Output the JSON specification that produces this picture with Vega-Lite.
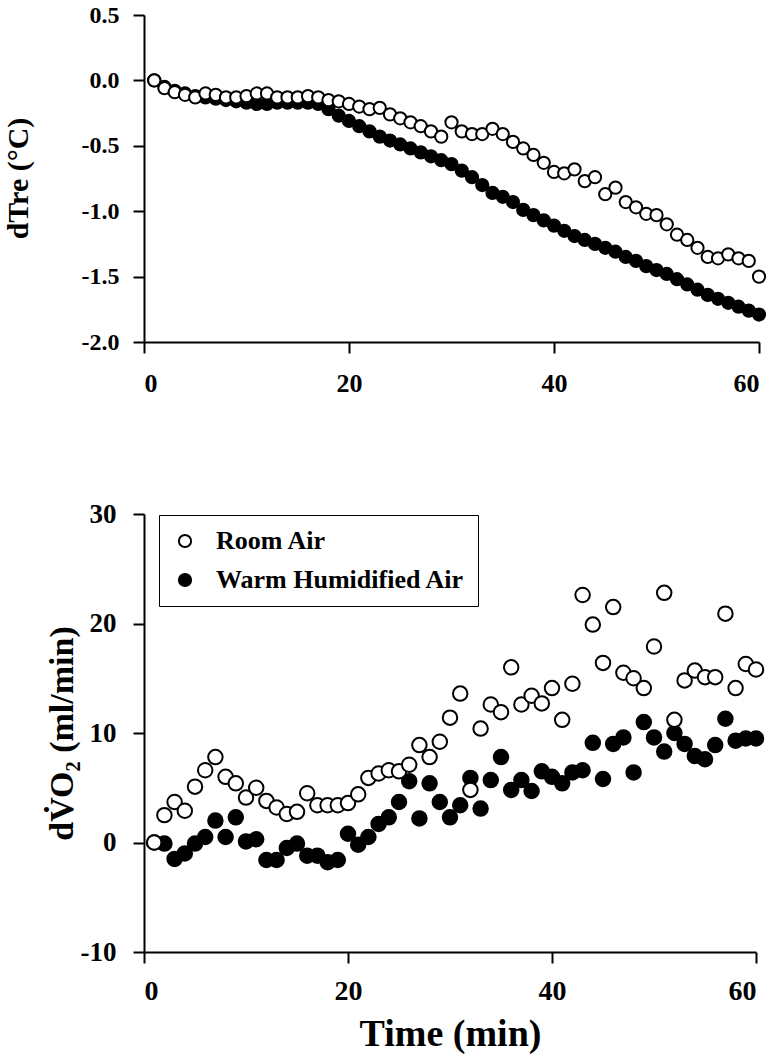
{
  "$schema": "https://vega.github.io/schema/vega-lite/v6.json",
  "background": "white",
  "padding": {"left": 3, "top": 3, "right": 5, "bottom": 5},
  "bounds": "flush",
  "spacing": 172,
  "config": {
    "view": {"stroke": null},
    "font": "Liberation Serif",
    "axis": {
      "domainColor": "black", "domainWidth": 2, "tickColor": "black", "tickWidth": 2, "tickSize": 11,
      "grid": false, "labelFont": "Liberation Serif", "labelFontWeight": "bold", "labelColor": "black",
      "titleFont": "Liberation Serif", "titleFontWeight": "bold", "titleColor": "black"
    }
  },
  "datasets": {
    "tre": [
      {"t":1,"series":"Warm Humidified Air","v":0.0},{"t":2,"series":"Warm Humidified Air","v":-0.05},{"t":3,"series":"Warm Humidified Air","v":-0.08},{"t":4,"series":"Warm Humidified Air","v":-0.10},{"t":5,"series":"Warm Humidified Air","v":-0.12},{"t":6,"series":"Warm Humidified Air","v":-0.13},{"t":7,"series":"Warm Humidified Air","v":-0.14},{"t":8,"series":"Warm Humidified Air","v":-0.15},{"t":9,"series":"Warm Humidified Air","v":-0.16},{"t":10,"series":"Warm Humidified Air","v":-0.17},
      {"t":11,"series":"Warm Humidified Air","v":-0.18},{"t":12,"series":"Warm Humidified Air","v":-0.18},{"t":13,"series":"Warm Humidified Air","v":-0.17},{"t":14,"series":"Warm Humidified Air","v":-0.17},{"t":15,"series":"Warm Humidified Air","v":-0.17},{"t":16,"series":"Warm Humidified Air","v":-0.17},{"t":17,"series":"Warm Humidified Air","v":-0.18},{"t":18,"series":"Warm Humidified Air","v":-0.22},{"t":19,"series":"Warm Humidified Air","v":-0.27},{"t":20,"series":"Warm Humidified Air","v":-0.31},
      {"t":21,"series":"Warm Humidified Air","v":-0.35},{"t":22,"series":"Warm Humidified Air","v":-0.39},{"t":23,"series":"Warm Humidified Air","v":-0.43},{"t":24,"series":"Warm Humidified Air","v":-0.46},{"t":25,"series":"Warm Humidified Air","v":-0.49},{"t":26,"series":"Warm Humidified Air","v":-0.52},{"t":27,"series":"Warm Humidified Air","v":-0.55},{"t":28,"series":"Warm Humidified Air","v":-0.58},{"t":29,"series":"Warm Humidified Air","v":-0.61},{"t":30,"series":"Warm Humidified Air","v":-0.64},
      {"t":31,"series":"Warm Humidified Air","v":-0.69},{"t":32,"series":"Warm Humidified Air","v":-0.74},{"t":33,"series":"Warm Humidified Air","v":-0.80},{"t":34,"series":"Warm Humidified Air","v":-0.86},{"t":35,"series":"Warm Humidified Air","v":-0.89},{"t":36,"series":"Warm Humidified Air","v":-0.93},{"t":37,"series":"Warm Humidified Air","v":-0.99},{"t":38,"series":"Warm Humidified Air","v":-1.03},{"t":39,"series":"Warm Humidified Air","v":-1.07},{"t":40,"series":"Warm Humidified Air","v":-1.11},
      {"t":41,"series":"Warm Humidified Air","v":-1.15},{"t":42,"series":"Warm Humidified Air","v":-1.19},{"t":43,"series":"Warm Humidified Air","v":-1.22},{"t":44,"series":"Warm Humidified Air","v":-1.25},{"t":45,"series":"Warm Humidified Air","v":-1.28},{"t":46,"series":"Warm Humidified Air","v":-1.31},{"t":47,"series":"Warm Humidified Air","v":-1.35},{"t":48,"series":"Warm Humidified Air","v":-1.38},{"t":49,"series":"Warm Humidified Air","v":-1.42},{"t":50,"series":"Warm Humidified Air","v":-1.45},
      {"t":51,"series":"Warm Humidified Air","v":-1.48},{"t":52,"series":"Warm Humidified Air","v":-1.52},{"t":53,"series":"Warm Humidified Air","v":-1.56},{"t":54,"series":"Warm Humidified Air","v":-1.60},{"t":55,"series":"Warm Humidified Air","v":-1.64},{"t":56,"series":"Warm Humidified Air","v":-1.67},{"t":57,"series":"Warm Humidified Air","v":-1.70},{"t":58,"series":"Warm Humidified Air","v":-1.73},{"t":59,"series":"Warm Humidified Air","v":-1.76},{"t":60,"series":"Warm Humidified Air","v":-1.79},
      {"t":1,"series":"Room Air","v":0.0},{"t":2,"series":"Room Air","v":-0.06},{"t":3,"series":"Room Air","v":-0.09},{"t":4,"series":"Room Air","v":-0.11},{"t":5,"series":"Room Air","v":-0.13},{"t":6,"series":"Room Air","v":-0.10},{"t":7,"series":"Room Air","v":-0.11},{"t":8,"series":"Room Air","v":-0.13},{"t":9,"series":"Room Air","v":-0.13},{"t":10,"series":"Room Air","v":-0.12},
      {"t":11,"series":"Room Air","v":-0.10},{"t":12,"series":"Room Air","v":-0.10},{"t":13,"series":"Room Air","v":-0.13},{"t":14,"series":"Room Air","v":-0.13},{"t":15,"series":"Room Air","v":-0.13},{"t":16,"series":"Room Air","v":-0.12},{"t":17,"series":"Room Air","v":-0.13},{"t":18,"series":"Room Air","v":-0.15},{"t":19,"series":"Room Air","v":-0.16},{"t":20,"series":"Room Air","v":-0.18},
      {"t":21,"series":"Room Air","v":-0.20},{"t":22,"series":"Room Air","v":-0.22},{"t":23,"series":"Room Air","v":-0.21},{"t":24,"series":"Room Air","v":-0.26},{"t":25,"series":"Room Air","v":-0.29},{"t":26,"series":"Room Air","v":-0.32},{"t":27,"series":"Room Air","v":-0.35},{"t":28,"series":"Room Air","v":-0.39},{"t":29,"series":"Room Air","v":-0.43},{"t":30,"series":"Room Air","v":-0.32},
      {"t":31,"series":"Room Air","v":-0.39},{"t":32,"series":"Room Air","v":-0.41},{"t":33,"series":"Room Air","v":-0.41},{"t":34,"series":"Room Air","v":-0.37},{"t":35,"series":"Room Air","v":-0.41},{"t":36,"series":"Room Air","v":-0.47},{"t":37,"series":"Room Air","v":-0.52},{"t":38,"series":"Room Air","v":-0.57},{"t":39,"series":"Room Air","v":-0.63},{"t":40,"series":"Room Air","v":-0.70},
      {"t":41,"series":"Room Air","v":-0.71},{"t":42,"series":"Room Air","v":-0.68},{"t":43,"series":"Room Air","v":-0.77},{"t":44,"series":"Room Air","v":-0.74},{"t":45,"series":"Room Air","v":-0.87},{"t":46,"series":"Room Air","v":-0.82},{"t":47,"series":"Room Air","v":-0.93},{"t":48,"series":"Room Air","v":-0.97},{"t":49,"series":"Room Air","v":-1.02},{"t":50,"series":"Room Air","v":-1.03},
      {"t":51,"series":"Room Air","v":-1.10},{"t":52,"series":"Room Air","v":-1.18},{"t":53,"series":"Room Air","v":-1.22},{"t":54,"series":"Room Air","v":-1.28},{"t":55,"series":"Room Air","v":-1.35},{"t":56,"series":"Room Air","v":-1.36},{"t":57,"series":"Room Air","v":-1.33},{"t":58,"series":"Room Air","v":-1.36},{"t":59,"series":"Room Air","v":-1.38},{"t":60,"series":"Room Air","v":-1.50}
    ],
    "vo2": [
      {"t":1,"series":"Warm Humidified Air","v":0.0},{"t":2,"series":"Warm Humidified Air","v":-0.1},{"t":3,"series":"Warm Humidified Air","v":-1.5},{"t":4,"series":"Warm Humidified Air","v":-1.0},{"t":5,"series":"Warm Humidified Air","v":-0.1},{"t":6,"series":"Warm Humidified Air","v":0.5},{"t":7,"series":"Warm Humidified Air","v":2.0},{"t":8,"series":"Warm Humidified Air","v":0.5},{"t":9,"series":"Warm Humidified Air","v":2.3},{"t":10,"series":"Warm Humidified Air","v":0.1},
      {"t":11,"series":"Warm Humidified Air","v":0.3},{"t":12,"series":"Warm Humidified Air","v":-1.6},{"t":13,"series":"Warm Humidified Air","v":-1.6},{"t":14,"series":"Warm Humidified Air","v":-0.5},{"t":15,"series":"Warm Humidified Air","v":-0.1},{"t":16,"series":"Warm Humidified Air","v":-1.2},{"t":17,"series":"Warm Humidified Air","v":-1.2},{"t":18,"series":"Warm Humidified Air","v":-1.8},{"t":19,"series":"Warm Humidified Air","v":-1.6},{"t":20,"series":"Warm Humidified Air","v":0.8},
      {"t":21,"series":"Warm Humidified Air","v":-0.2},{"t":22,"series":"Warm Humidified Air","v":0.5},{"t":23,"series":"Warm Humidified Air","v":1.7},{"t":24,"series":"Warm Humidified Air","v":2.3},{"t":25,"series":"Warm Humidified Air","v":3.7},{"t":26,"series":"Warm Humidified Air","v":5.6},{"t":27,"series":"Warm Humidified Air","v":2.2},{"t":28,"series":"Warm Humidified Air","v":5.4},{"t":29,"series":"Warm Humidified Air","v":3.7},{"t":30,"series":"Warm Humidified Air","v":2.3},
      {"t":31,"series":"Warm Humidified Air","v":3.4},{"t":32,"series":"Warm Humidified Air","v":5.9},{"t":33,"series":"Warm Humidified Air","v":3.1},{"t":34,"series":"Warm Humidified Air","v":5.7},{"t":35,"series":"Warm Humidified Air","v":7.8},{"t":36,"series":"Warm Humidified Air","v":4.8},{"t":37,"series":"Warm Humidified Air","v":5.7},{"t":38,"series":"Warm Humidified Air","v":4.7},{"t":39,"series":"Warm Humidified Air","v":6.5},{"t":40,"series":"Warm Humidified Air","v":6.0},
      {"t":41,"series":"Warm Humidified Air","v":5.4},{"t":42,"series":"Warm Humidified Air","v":6.4},{"t":43,"series":"Warm Humidified Air","v":6.6},{"t":44,"series":"Warm Humidified Air","v":9.1},{"t":45,"series":"Warm Humidified Air","v":5.8},{"t":46,"series":"Warm Humidified Air","v":9.0},{"t":47,"series":"Warm Humidified Air","v":9.6},{"t":48,"series":"Warm Humidified Air","v":6.4},{"t":49,"series":"Warm Humidified Air","v":11.0},{"t":50,"series":"Warm Humidified Air","v":9.6},
      {"t":51,"series":"Warm Humidified Air","v":8.3},{"t":52,"series":"Warm Humidified Air","v":10.0},{"t":53,"series":"Warm Humidified Air","v":9.0},{"t":54,"series":"Warm Humidified Air","v":7.9},{"t":55,"series":"Warm Humidified Air","v":7.6},{"t":56,"series":"Warm Humidified Air","v":8.9},{"t":57,"series":"Warm Humidified Air","v":11.3},{"t":58,"series":"Warm Humidified Air","v":9.3},{"t":59,"series":"Warm Humidified Air","v":9.5},{"t":60,"series":"Warm Humidified Air","v":9.5},
      {"t":1,"series":"Room Air","v":0.0},{"t":2,"series":"Room Air","v":2.5},{"t":3,"series":"Room Air","v":3.7},{"t":4,"series":"Room Air","v":2.9},{"t":5,"series":"Room Air","v":5.1},{"t":6,"series":"Room Air","v":6.6},{"t":7,"series":"Room Air","v":7.8},{"t":8,"series":"Room Air","v":6.0},{"t":9,"series":"Room Air","v":5.4},{"t":10,"series":"Room Air","v":4.1},
      {"t":11,"series":"Room Air","v":5.0},{"t":12,"series":"Room Air","v":3.8},{"t":13,"series":"Room Air","v":3.2},{"t":14,"series":"Room Air","v":2.6},{"t":15,"series":"Room Air","v":2.8},{"t":16,"series":"Room Air","v":4.5},{"t":17,"series":"Room Air","v":3.4},{"t":18,"series":"Room Air","v":3.4},{"t":19,"series":"Room Air","v":3.4},{"t":20,"series":"Room Air","v":3.6},
      {"t":21,"series":"Room Air","v":4.4},{"t":22,"series":"Room Air","v":5.9},{"t":23,"series":"Room Air","v":6.3},{"t":24,"series":"Room Air","v":6.6},{"t":25,"series":"Room Air","v":6.5},{"t":26,"series":"Room Air","v":7.1},{"t":27,"series":"Room Air","v":8.9},{"t":28,"series":"Room Air","v":7.8},{"t":29,"series":"Room Air","v":9.2},{"t":30,"series":"Room Air","v":11.4},
      {"t":31,"series":"Room Air","v":13.6},{"t":32,"series":"Room Air","v":4.8},{"t":33,"series":"Room Air","v":10.4},{"t":34,"series":"Room Air","v":12.6},{"t":35,"series":"Room Air","v":11.9},{"t":36,"series":"Room Air","v":16.0},{"t":37,"series":"Room Air","v":12.6},{"t":38,"series":"Room Air","v":13.4},{"t":39,"series":"Room Air","v":12.7},{"t":40,"series":"Room Air","v":14.1},
      {"t":41,"series":"Room Air","v":11.2},{"t":42,"series":"Room Air","v":14.5},{"t":43,"series":"Room Air","v":22.6},{"t":44,"series":"Room Air","v":19.9},{"t":45,"series":"Room Air","v":16.4},{"t":46,"series":"Room Air","v":21.5},{"t":47,"series":"Room Air","v":15.5},{"t":48,"series":"Room Air","v":15.0},{"t":49,"series":"Room Air","v":14.1},{"t":50,"series":"Room Air","v":17.9},
      {"t":51,"series":"Room Air","v":22.8},{"t":52,"series":"Room Air","v":11.2},{"t":53,"series":"Room Air","v":14.8},{"t":54,"series":"Room Air","v":15.7},{"t":55,"series":"Room Air","v":15.1},{"t":56,"series":"Room Air","v":15.1},{"t":57,"series":"Room Air","v":20.9},{"t":58,"series":"Room Air","v":14.1},{"t":59,"series":"Room Air","v":16.3},{"t":60,"series":"Room Air","v":15.8}
    ]
  },
  "vconcat": [
    {
      "width": 615,
      "height": 327,
      "data": {"name": "tre"},
      "mark": {"type": "point", "filled": true, "stroke": "black", "strokeWidth": 2, "size": 150, "opacity": 1},
      "encoding": {
        "x": {"field": "t", "type": "quantitative", "scale": {"domain": [0, 60], "nice": false},
              "axis": {"values": [0, 20, 40, 60], "title": null, "labelFontSize": 26, "labelPadding": 17}},
        "y": {"field": "v", "type": "quantitative", "scale": {"domain": [-2, 0.5], "nice": false, "zero": false},
              "axis": {"values": [-2, -1.5, -1, -0.5, 0, 0.5], "labelExpr": "replace(format(datum.value, '.1f'), '\u2212', '-')",
                       "title": "dTre (°C)", "labelFontSize": 24, "titleFontSize": 30, "labelPadding": 14,
                       "titleX": -111, "titleY": 163, "titleBaseline": "bottom"}},
        "fill": {"field": "series", "type": "nominal",
                 "scale": {"domain": ["Room Air", "Warm Humidified Air"], "range": ["white", "black"]}, "legend": null}
      }
    },
    {
      "width": 612,
      "height": 438,
      "data": {"name": "vo2"},
      "mark": {"type": "point", "filled": true, "stroke": "black", "strokeWidth": 2, "size": 210, "opacity": 1},
      "encoding": {
        "x": {"field": "t", "type": "quantitative", "scale": {"domain": [0, 60], "nice": false},
              "axis": {"values": [0, 20, 40, 60], "title": "Time (min)", "labelFontSize": 28, "labelPadding": 14,
                       "titleFontSize": 38, "titlePadding": 10}},
        "y": {"field": "v", "type": "quantitative", "scale": {"domain": [-10, 30], "nice": false, "zero": false},
              "axis": {"values": [-10, 0, 10, 20, 30], "labelExpr": "replace(format(datum.value, 'd'), '\u2212', '-')",
                       "title": "dV̇O₂ (ml/min)", "labelFontSize": 27, "titleFontSize": 34, "labelPadding": 17,
                       "titleX": -65, "titleY": 219, "titleBaseline": "bottom"}},
        "fill": {"field": "series", "type": "nominal",
                 "scale": {"domain": ["Room Air", "Warm Humidified Air"], "range": ["white", "black"]},
                 "legend": {"orient": "none", "legendX": 15, "legendY": 1, "title": null,
                            "strokeColor": "black", "padding": 13,
                            "labelFont": "Liberation Serif", "labelFontWeight": "bold", "labelFontSize": 26, "labelColor": "black",
                            "labelLimit": 500,
                            "symbolType": "circle", "symbolSize": 150, "symbolStrokeWidth": 2, "symbolStrokeColor": "black",
                            "rowPadding": 13, "labelOffset": 18}}
      }
    }
  ],
  "resolve": {"scale": {"fill": "independent"}, "legend": {"fill": "independent"}}
}
